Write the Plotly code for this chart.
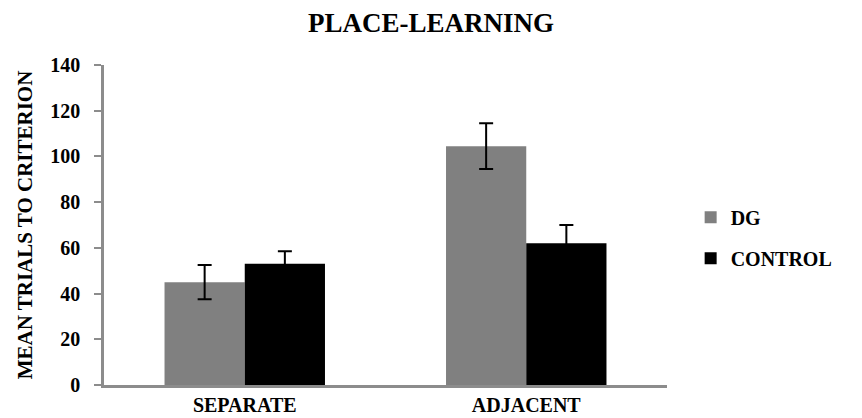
import plotly.graph_objects as go

categories = ["SEPARATE", "ADJACENT"]
dg_values = [45, 104.5]
dg_errors = [7.5, 10]
control_values = [53, 62]
control_errors = [5.5, 8]
y_ticks = [0, 20, 40, 60, 80, 100, 120, 140]

font_family = "Liberation Serif"

fig = go.Figure()
fig.add_trace(go.Bar(
    name="<b>DG</b>", x=categories, y=dg_values, legendgroup="dg",
    marker=dict(color="#808080", line=dict(width=0)),
    error_y=dict(type="data", array=dg_errors, color="black", thickness=2, width=7),
))
fig.add_trace(go.Bar(
    name="<b>CONTROL</b>", x=categories, y=control_values, legendgroup="ctrl",
    marker=dict(color="#000000", line=dict(width=0)),
    error_y=dict(type="data", array=control_errors, color="black", thickness=2, width=7),
))

fig.update_layout(
    width=862, height=418,
    margin=dict(l=104, r=195, t=65, b=33),
    paper_bgcolor="white", plot_bgcolor="white",
    barmode="group", bargap=0.43, bargroupgap=0,
    font=dict(family=font_family, color="black"),
    title=dict(text="<b>PLACE-LEARNING</b>", x=0.5, xref="container", xanchor="center",
               y=0.947, yref="container", yanchor="middle",
               font=dict(family=font_family, size=27, color="black")),
    showlegend=True,
    legend=dict(x=1.042, y=0.46, xanchor="left", yanchor="middle",
                font=dict(family=font_family, size=20, color="black"),
                itemwidth=30, traceorder="grouped", tracegroupgap=12,
                bgcolor="rgba(0,0,0,0)"),
    xaxis=dict(showline=True, linecolor="#8c8c8c", linewidth=2.5, ticks="",
               automargin=False, ticklabelstandoff=0,
               tickvals=categories, ticktext=["<b>" + c + "</b>" for c in categories],
               tickfont=dict(family=font_family, size=20, color="black")),
    yaxis=dict(range=[0, 140], tickvals=y_ticks, ticktext=["<b>%d</b>" % v for v in y_ticks],
               showline=True, linecolor="#8c8c8c", linewidth=2.5, automargin=False,
               ticks="outside", ticklen=7, tickcolor="#8c8c8c", tickwidth=2, showgrid=False,
               zeroline=False, ticklabelstandoff=10,
               tickfont=dict(family=font_family, size=20, color="black"),
               title=dict(text="<b>MEAN TRIALS TO CRITERION</b>", standoff=12,
                          font=dict(family=font_family, size=21, color="black"))),
)

fig.write_html("out.html")
